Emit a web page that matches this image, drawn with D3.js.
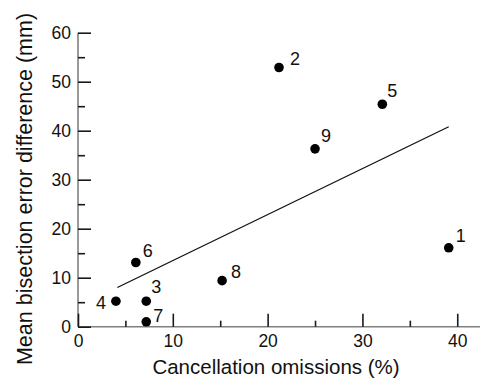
<!DOCTYPE html>
<html>
<head>
<meta charset="utf-8">
<script src="https://cdn.jsdelivr.net/npm/d3@7"></script>
<style>
  html, body { margin: 0; padding: 0; background: #fff; }
  svg { display: block; font-family: "Liberation Sans", Arial, sans-serif; }
</style>
</head>
<body>
<svg id="chart" width="480" height="379"></svg>
<script>
// ---- data ----
const pointLabels = ["1", "2", "3", "4", "5", "6", "7", "8", "9"];
const omissions   = [39.1, 21.2, 7.2, 4.0, 32.1, 6.1, 7.2, 15.2, 25.0];
const bisection   = [16.1, 52.9, 5.2, 5.2, 45.4, 13.1, 1.0, 9.4, 36.3];
const fitX = [4.15, 39.1];
const fitY = [8.0, 40.8];
const xMajorTicks = [0, 10, 20, 30, 40];
const xMinorTicks = [5, 15, 25, 35];
const yMajorTicks = [0, 10, 20, 30, 40, 50, 60];
const yMinorTicks = [5, 15, 25, 35, 45, 55];
const xTitle = "Cancellation omissions (%)";
const yTitle = "Mean bisection error difference (mm)";

// ---- layout (label offsets relative to each point, in px) ----
const labelOffsets = [[7, -6], [11, -2], [5, -8], [-10, 8], [5, -7], [7, -6], [7, 0], [9, -3], [6, -7]];
const labelAnchors = ["start","start","start","end","start","start","start","start","start"];

const svg = d3.select("#chart");
const x = d3.scaleLinear().domain([0, 42.4]).range([78, 480]);
const y = d3.scaleLinear().domain([0, 60]).range([326.7, 32.7]);

const tickColor = "#1a1a1a";
const axisColor = "#808080";

// axis domain lines
svg.append("line")
  .attr("x1", x(0)).attr("x2", x(42.4))
  .attr("y1", y(0)).attr("y2", y(0))
  .attr("stroke", axisColor).attr("stroke-width", 1.6);
svg.append("line")
  .attr("x1", x(0)).attr("x2", x(0))
  .attr("y1", y(0)).attr("y2", y(60))
  .attr("stroke", axisColor).attr("stroke-width", 1.6);

// x axis
const gx = svg.append("g").attr("transform", `translate(0,${y(0)})`);
gx.call(d3.axisBottom(x).tickValues(xMajorTicks).tickSize(-13).tickPadding(8).tickFormat(d3.format("d")));
const gxm = svg.append("g").attr("transform", `translate(0,${y(0)})`);
gxm.call(d3.axisBottom(x).tickValues(xMinorTicks).tickSize(-6).tickFormat(""));

// y axis
const gy = svg.append("g").attr("transform", `translate(${x(0)},0)`);
gy.call(d3.axisLeft(y).tickValues(yMajorTicks).tickSize(-13).tickPadding(7).tickFormat(d3.format("d")));
const gym = svg.append("g").attr("transform", `translate(${x(0)},0)`);
gym.call(d3.axisLeft(y).tickValues(yMinorTicks).tickSize(-7).tickFormat(""));

svg.selectAll(".domain").remove();
svg.selectAll(".tick line").attr("stroke", tickColor).attr("stroke-width", 1.6);
svg.selectAll(".tick text")
  .attr("fill", "#111")
  .style("font-size", "17.5px")
  .style("font-family", "'Liberation Sans', Arial, sans-serif");

// fit line
svg.append("path")
  .datum(fitX.map((d, i) => [d, fitY[i]]))
  .attr("fill", "none")
  .attr("stroke", "#111")
  .attr("stroke-width", 1.3)
  .attr("d", d3.line().x(d => x(d[0])).y(d => y(d[1])));

// points
const pts = pointLabels.map((l, i) => ({ label: l, x: omissions[i], y: bisection[i], i }));
svg.append("g").selectAll("circle").data(pts).join("circle")
  .attr("cx", d => x(d.x)).attr("cy", d => y(d.y)).attr("r", 4.8)
  .attr("fill", "#000");

svg.append("g").selectAll("text").data(pts).join("text")
  .attr("x", d => x(d.x) + labelOffsets[d.i][0])
  .attr("y", d => y(d.y) + labelOffsets[d.i][1])
  .attr("text-anchor", d => labelAnchors[d.i])
  .attr("fill", "#111")
  .style("font-size", "18px")
  .text(d => d.label);

// titles
svg.append("text")
  .attr("x", 276).attr("y", 374)
  .attr("text-anchor", "middle")
  .attr("fill", "#111")
  .style("font-size", "20.5px")
  .text(xTitle);

svg.append("text")
  .attr("transform", "translate(32,189) rotate(-90)")
  .attr("text-anchor", "middle")
  .attr("fill", "#111")
  .style("font-size", "21.5px")
  .text(yTitle);
</script>
</body>
</html>
